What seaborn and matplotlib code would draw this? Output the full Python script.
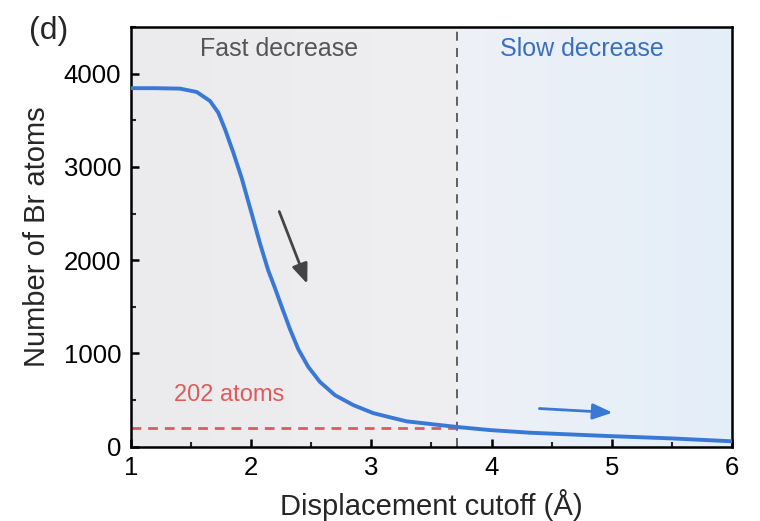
import numpy as np
import pandas as pd
import matplotlib
matplotlib.use("Agg")
import matplotlib.pyplot as plt
import seaborn as sns
from matplotlib.ticker import MultipleLocator
from matplotlib.colors import LinearSegmentedColormap

# ---- data ----
cutoff = [1.0, 1.2, 1.408, 1.547, 1.657, 1.726, 1.782, 1.851, 1.921, 2.004,
          2.073, 2.142, 2.198, 2.254, 2.323, 2.392, 2.475, 2.572, 2.697, 2.85,
          3.016, 3.14, 3.294, 3.571, 3.71, 3.99, 4.32, 4.98, 5.48, 6.0]
n_br = [3845, 3845, 3840, 3804, 3708, 3583, 3405, 3155, 2880, 2500,
        2180, 1890, 1700, 1500, 1260, 1045, 856, 695, 553, 446,
        360, 320, 272, 232, 212, 178, 150, 114, 90, 58]
threshold_x = 3.71
threshold_y = 202
region_labels = ["Fast decrease", "Slow decrease"]
x_ticks = [1, 2, 3, 4, 5, 6]
y_ticks = [0, 1000, 2000, 3000, 4000]

df = pd.DataFrame({"cutoff": cutoff, "n": n_br})

sns.set_theme(style="ticks")
plt.rcParams["font.family"] = ["Liberation Sans", "DejaVu Sans"]

fig = plt.figure(figsize=(7.6, 5.21), dpi=100)
ax = fig.add_axes([0.1724, 0.1426, 0.963 - 0.1724, 0.948 - 0.1426])

xmin, xmax, ymin, ymax = 1, 6, 0, 4500

# background gradients
gray_cmap = LinearSegmentedColormap.from_list("g", ["#ebebee", "#efeff2"])
blue_cmap = LinearSegmentedColormap.from_list("b", ["#eef1f6", "#e4eef9"])
grad = np.linspace(0, 1, 256).reshape(1, -1)
ax.imshow(grad, extent=[xmin, threshold_x, ymin, ymax], aspect="auto",
          cmap=gray_cmap, zorder=0)
ax.imshow(grad, extent=[threshold_x, xmax, ymin, ymax], aspect="auto",
          cmap=blue_cmap, zorder=0)

sns.lineplot(data=df, x="cutoff", y="n", ax=ax, color="#3a78d6", lw=2.8,
             zorder=3)

ax.axvline(threshold_x, color="#555555", lw=1.3, ls=(0, (5, 4)), zorder=2)
ax.plot([xmin, threshold_x], [threshold_y, threshold_y], color="#e05a5a",
        lw=2.0, ls=(0, (3.5, 2.5)), zorder=2)

ax.text(1.82, 556, f"{threshold_y} atoms", color="#e05a5a", fontsize=17,
        ha="center", va="center")
ax.text(2.23, 4260, region_labels[0], color="#555555", fontsize=18,
        ha="center", va="center")
ax.text(4.75, 4260, region_labels[1], color="#3a6fc0", fontsize=18,
        ha="center", va="center")

ax.annotate("", xy=(2.475, 1719), xytext=(2.225, 2550),
            arrowprops=dict(arrowstyle="-|>,head_length=1.0,head_width=0.4",
                            color="#444444", lw=2), zorder=4)
ax.annotate("", xy=(5.03, 364), xytext=(4.375, 411),
            arrowprops=dict(arrowstyle="-|>,head_length=1.0,head_width=0.4",
                            color="#3a78d6", lw=2), zorder=4)

ax.set_xlim(xmin, xmax)
ax.set_ylim(ymin, ymax)
ax.set_xticks(x_ticks)
ax.set_yticks(y_ticks)
ax.xaxis.set_minor_locator(MultipleLocator(0.5))
ax.yaxis.set_minor_locator(MultipleLocator(500))
ax.tick_params(which="major", direction="in", length=6, width=1.8,
               labelsize=18.5, colors="black", pad=7)
ax.tick_params(which="minor", direction="in", length=3.5, width=1.5)
ax.tick_params(top=False, right=False, which="both")
for s in ax.spines.values():
    s.set_linewidth(1.8)
    s.set_color("black")

ax.set_xlabel("Displacement cutoff (Å)", fontsize=21, labelpad=6)
ax.set_ylabel("Number of Br atoms", fontsize=21, labelpad=9)

fig.text(0.064, 0.94, "(d)", fontsize=23, ha="center", va="center")

fig.savefig("out.png", dpi=100)
